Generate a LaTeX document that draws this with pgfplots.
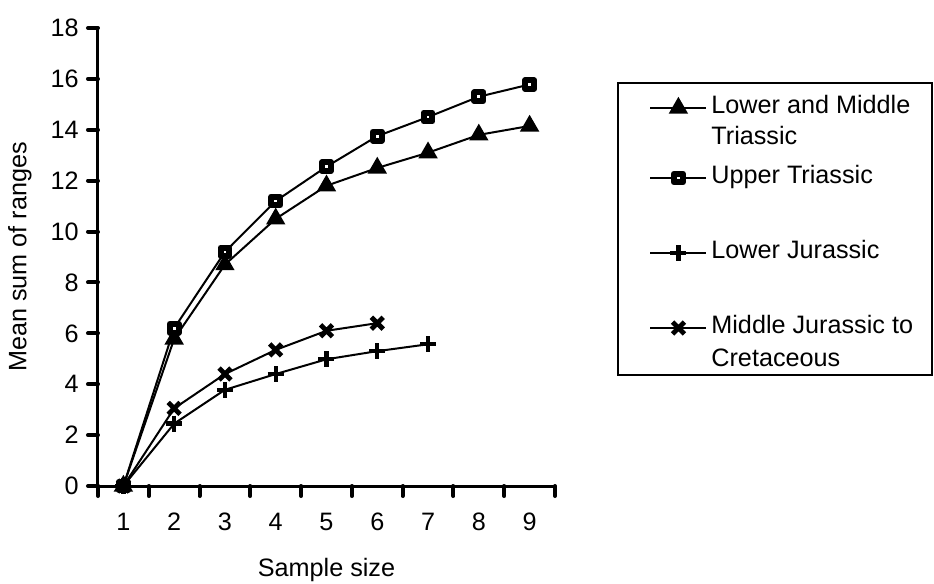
\documentclass[border=0pt]{standalone}
\usepackage{pgfplots}
\pgfplotsset{compat=1.18}
\usepackage{fontspec}
\setmainfont{Liberation Sans}
\begin{document}
\begin{tikzpicture}[font=\fontsize{12.6bp}{15bp}\selectfont]
\begin{axis}[
  scale only axis,
  width=228.5bp, height=229bp,
  xmin=0.5, xmax=9.5, ymin=0, ymax=18,
  axis lines*=left,
  axis line style={line width=1.5bp},
  xtick={0.5,1.5,...,9.5},
  x tick label as interval,
  xticklabels={1,2,3,4,5,6,7,8,9},
  ytick={0,2,...,18},
  tick align=outside,
  major tick length=5bp,
  tick style={black, line width=2bp, line cap=round},
  /pgf/number format/assume math mode=true,
  xticklabel style={inner sep=0pt, anchor=north, yshift=-8.5bp},
  yticklabel style={inner sep=0pt, anchor=east, xshift=-4.5bp},
  xlabel={Sample size},
  ylabel={Mean sum of ranges},
  every axis x label/.style={at={(axis description cs:0.5,0)}, yshift=-42bp, anchor=center},
  every axis y label/.style={at={(axis description cs:-0.1707,0.5)}, rotate=90, anchor=center},
  every axis plot/.append style={line width=1bp, black},
  legend style={at={(axis description cs:1.1357,0.882)}, anchor=north west, draw=black, line width=1bp,
    inner xsep=9.4bp, inner ysep=2.5bp, column sep=0pt, row sep=0pt,
    nodes={inner sep=0pt}, cells={anchor=base west}},
  legend image code/.code={
    \path[draw=none] (-6.8bp,2.5bp) -- (30.5bp,2.5bp);
    \draw[mark repeat=2,mark phase=2,#1] plot coordinates {(0bp,2.5bp) (14bp,2.5bp) (28bp,2.5bp)};
  },
]
\addplot[mark=triangle*, mark size=4.6bp, mark options={solid, fill=black, line width=1bp}]
  coordinates {(1,0) (2,5.78) (3,8.7) (4,10.5) (5,11.8) (6,12.5) (7,13.1) (8,13.8) (9,14.15)};
\addlegendentry{\rule[-3bp]{0pt}{15.5bp}Lower and Middle}
\addlegendimage{empty legend}
\addlegendentry{\rule[-3bp]{0pt}{17bp}Triassic}
\addplot[mark=square*, mark size=2.2bp, mark options={solid, fill=white, draw=black, line width=3bp, line join=round}]
  coordinates {(1,0) (2,6.2) (3,9.2) (4,11.2) (5,12.55) (6,13.75) (7,14.5) (8,15.3) (9,15.78)};
\addlegendentry{\rule[-3bp]{0pt}{21bp}Upper Triassic}
\addplot[mark=+, mark size=4bp, mark options={solid, line width=2.2bp}]
  coordinates {(1,0) (2,2.45) (3,3.78) (4,4.4) (5,4.98) (6,5.3) (7,5.57)};
\addlegendentry{\rule[-3bp]{0pt}{39bp}Lower Jurassic}
\addplot[mark=x, mark size=4.2bp, mark options={solid, line width=2.4bp}]
  coordinates {(1,0) (2,3.05) (3,4.4) (4,5.35) (5,6.1) (6,6.4)};
\addlegendentry{\rule[-3bp]{0pt}{39bp}Middle Jurassic to}
\addlegendimage{empty legend}
\addlegendentry{\rule[-4.5bp]{0pt}{20bp}Cretaceous}
\end{axis}
\pgfresetboundingbox
\path[use as bounding box] (-49bp,-49bp) rectangle (418bp,243bp);
\end{tikzpicture}
\end{document}
